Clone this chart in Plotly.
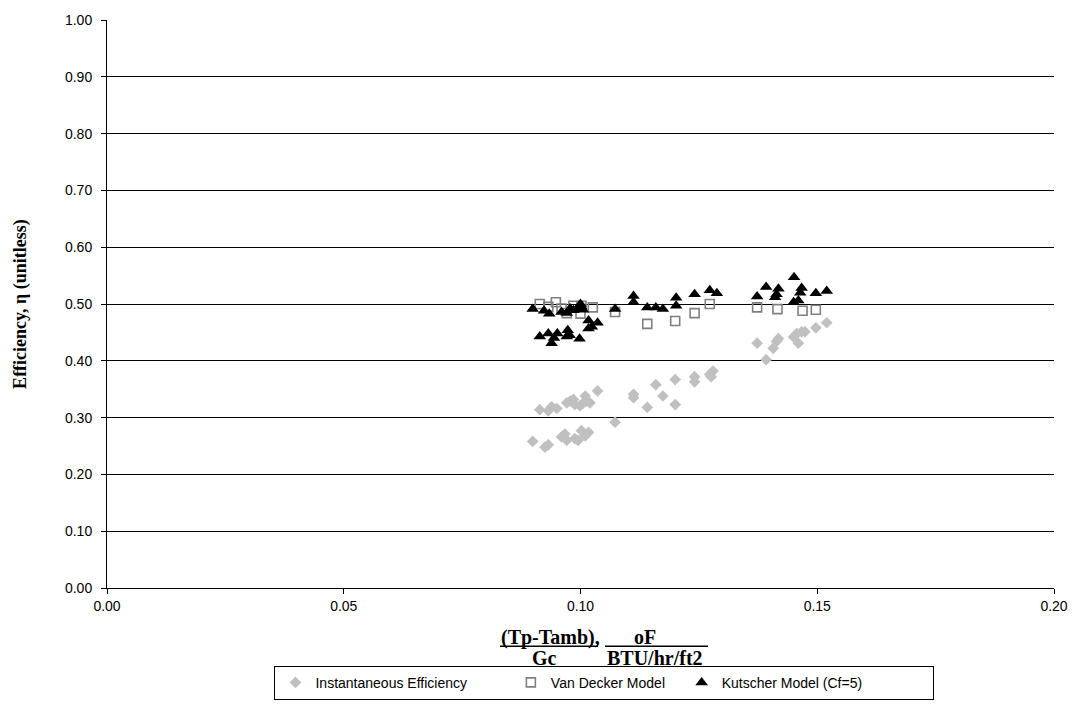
import plotly.graph_objects as go

# Instantaneous efficiency measurements
inst_x = [0.0914, 0.0932, 0.0939, 0.0950, 0.0971, 0.0985, 0.0988, 0.0999, 0.1010, 0.1013,
          0.1020, 0.1036, 0.1112, 0.1112, 0.1141, 0.1159, 0.1174, 0.1200, 0.1200, 0.1241,
          0.1241, 0.1273, 0.1280, 0.0899, 0.0925, 0.0932, 0.0960, 0.0967, 0.0971, 0.0988,
          0.0995, 0.1002, 0.1010, 0.1017, 0.1073, 0.1373, 0.1392, 0.1407, 0.1414, 0.1418,
          0.1450, 0.1457, 0.1460, 0.1467, 0.1474, 0.1497, 0.1520, 0.0978, 0.1005, 0.1276]
inst_y = [0.314, 0.312, 0.319, 0.316, 0.326, 0.332, 0.323, 0.321, 0.338, 0.329,
          0.326, 0.347, 0.341, 0.335, 0.318, 0.358, 0.338, 0.367, 0.323, 0.372,
          0.363, 0.376, 0.382, 0.258, 0.248, 0.252, 0.266, 0.271, 0.260, 0.263,
          0.260, 0.277, 0.268, 0.274, 0.292, 0.431, 0.402, 0.422, 0.434, 0.439,
          0.442, 0.448, 0.431, 0.451, 0.451, 0.458, 0.467, 0.329, 0.325, 0.372]

# Van Decker model predictions
vd_x = [0.0914, 0.0932, 0.0948, 0.0971, 0.0985, 0.1002, 0.1000, 0.1026, 0.1073, 0.1141,
        0.1200, 0.1241, 0.1273, 0.1373, 0.1416, 0.1469, 0.1497, 0.0960]
vd_y = [0.500, 0.495, 0.503, 0.484, 0.497, 0.497, 0.483, 0.494, 0.486, 0.465,
        0.470, 0.484, 0.500, 0.494, 0.491, 0.488, 0.490, 0.492]

# Kutscher model predictions (Cf=5)
ku_x = [0.0899, 0.0923, 0.0934, 0.0960, 0.0971, 0.0978, 0.0985, 0.0995, 0.1000, 0.1005,
        0.1017, 0.1036, 0.1017, 0.1024, 0.0914, 0.0932, 0.0939, 0.0951, 0.0971, 0.0973,
        0.0977, 0.0998, 0.1073, 0.1112, 0.1112, 0.1141, 0.1159, 0.1174, 0.1202, 0.1202,
        0.1241, 0.1273, 0.1288, 0.1373, 0.1392, 0.1418, 0.1411, 0.1414, 0.1451, 0.1467,
        0.1464, 0.1450, 0.1460, 0.1497, 0.1520, 0.1002, 0.0944]
ku_y = [0.491, 0.488, 0.483, 0.486, 0.484, 0.492, 0.489, 0.493, 0.500, 0.490,
        0.471, 0.467, 0.457, 0.460, 0.443, 0.448, 0.431, 0.448, 0.443, 0.454,
        0.445, 0.439, 0.491, 0.514, 0.503, 0.494, 0.494, 0.491, 0.511, 0.497,
        0.517, 0.524, 0.519, 0.513, 0.530, 0.527, 0.512, 0.517, 0.547, 0.528,
        0.520, 0.503, 0.506, 0.519, 0.523, 0.495, 0.440]

x_ticks = [0.00, 0.05, 0.10, 0.15, 0.20]
y_ticks = [0.0, 0.1, 0.2, 0.3, 0.4, 0.5, 0.6, 0.7, 0.8, 0.9, 1.0]

# non-breaking spaces pad the legend entries apart
NB = "\u00a0"

fig = go.Figure()
fig.add_trace(go.Scatter(
    x=inst_x, y=inst_y, mode="markers", name="Instantaneous Efficiency" + NB * 10,
    marker=dict(symbol="diamond", size=9, color="#c0c0c0", line=dict(width=0)),
))
fig.add_trace(go.Scatter(
    x=vd_x, y=vd_y, mode="markers", name="Van Decker Model" + NB * 3,
    marker=dict(symbol="square-open", size=9, color="#808080", line=dict(width=1.6)),
))
fig.add_trace(go.Scatter(
    x=ku_x, y=ku_y, mode="markers", name="Kutscher Model (Cf=5)" + NB * 17,
    marker=dict(symbol="triangle-up", size=11, color="#000000", line=dict(width=0)),
))

tick_font = dict(family="Liberation Sans, Arial, sans-serif", size=14, color="#000000")
title_font = dict(family="Liberation Serif, Times New Roman, serif", size=18, color="#000000")
xtitle_font = dict(family="Liberation Serif, Times New Roman, serif", size=20, color="#000000")

fig.update_xaxes(
    range=[0, 0.2], tickvals=x_ticks, ticktext=[f"{v:.2f}" for v in x_ticks],
    showgrid=False, zeroline=False, showline=True, linecolor="#000000", linewidth=1,
    ticks="outside", ticklen=5, tickcolor="#000000", tickfont=tick_font,
)
fig.update_yaxes(
    range=[0, 1.0], tickvals=y_ticks, ticktext=[f"{v:.2f}" for v in y_ticks],
    showgrid=True, gridcolor="#000000", gridwidth=1, zeroline=False,
    showline=True, linecolor="#000000", linewidth=1,
    ticks="outside", ticklen=5, tickcolor="#000000", tickfont=tick_font,
    ticklabelstandoff=6,
)

# Vertical y-axis title
fig.add_annotation(text="<b>Efficiency, η (unitless)</b>", xref="paper", yref="paper",
                   x=-0.092, y=0.5, textangle=-90, showarrow=False, font=title_font,
                   xanchor="center", yanchor="middle")

# Two-line x-axis title written as a fraction
fig.add_annotation(text="<b>(Tp-Tamb),</b>", xref="paper", yref="paper",
                   x=0.4678, y=-0.0868, showarrow=False, font=xtitle_font,
                   xanchor="center", yanchor="middle")
fig.add_annotation(text="<b>oF</b>", xref="paper", yref="paper",
                   x=0.5681, y=-0.0868, showarrow=False, font=xtitle_font,
                   xanchor="center", yanchor="middle")
fig.add_annotation(text="<b>Gc</b>", xref="paper", yref="paper",
                   x=0.4625, y=-0.1233, showarrow=False, font=xtitle_font,
                   xanchor="center", yanchor="middle")
fig.add_annotation(text="<b>BTU/hr/ft2</b>", xref="paper", yref="paper",
                   x=0.5787, y=-0.1233, showarrow=False, font=xtitle_font,
                   xanchor="center", yanchor="middle")
fig.add_shape(type="line", xref="paper", yref="paper",
              x0=0.415, x1=0.5185, y0=-0.1024, y1=-0.1024,
              line=dict(color="#000000", width=1.5))
fig.add_shape(type="line", xref="paper", yref="paper",
              x0=0.5259, x1=0.6346, y0=-0.1024, y1=-0.1024,
              line=dict(color="#000000", width=1.5))

fig.update_layout(
    width=1083, height=723,
    margin=dict(l=107, r=29, t=12, b=135),
    paper_bgcolor="#ffffff", plot_bgcolor="#ffffff",
    showlegend=True,
    legend=dict(
        orientation="h", x=0.5253, y=-0.137, xanchor="center", yanchor="top",
        bordercolor="#000000", borderwidth=1, bgcolor="#ffffff",
        font=dict(family="Liberation Sans, Arial, sans-serif", size=14, color="#000000"),
        itemwidth=30,
    ),
)

fig.write_html("out.html")
